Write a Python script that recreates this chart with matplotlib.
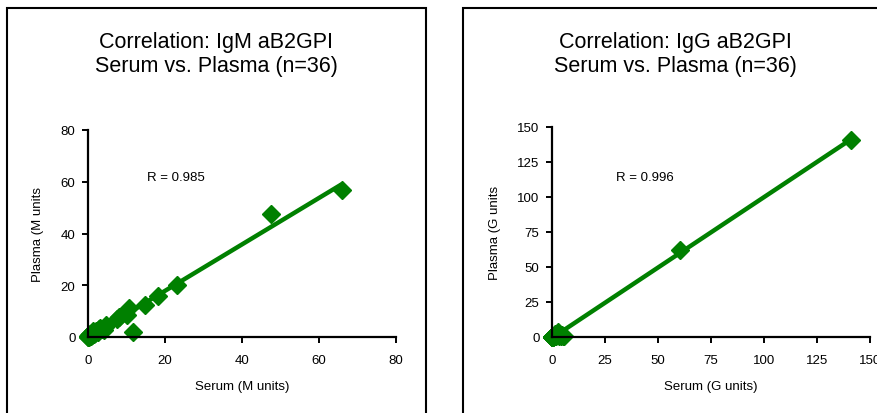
import numpy as np
import matplotlib
matplotlib.use("Agg")
from matplotlib import pyplot as plt
from matplotlib.patches import Rectangle

plt.rcParams['font.family'] = ['Liberation Sans', 'DejaVu Sans']

# IgM aB2GPI, serum vs plasma (M units)
igm_serum = [65.9, 47.5, 23.0, 18.3, 14.7, 10.7, 10.2, 11.8, 8.0, 7.6,
             4.8, 4.2, 3.1, 2.8, 2.2, 1.8, 1.4, 1.2, 1.0, 0.8,
             0.6, 0.5, 0.4, 0.3, 0.2, 0.2, 0.1, 0.1, 0.6, 1.6,
             2.5, 3.6, 4.5, 0.9, 0.3, 0.0]
igm_plasma = [57.0, 47.5, 20.0, 16.0, 12.3, 11.3, 8.6, 1.9, 7.8, 7.0,
              4.6, 2.6, 3.6, 2.9, 2.3, 1.6, 2.4, 1.0, 0.9, 0.6,
              0.5, 1.2, 0.3, 0.2, 0.4, 0.1, 0.2, 0.0, 0.8, 1.3,
              1.9, 3.0, 3.9, 0.4, 0.6, 0.1]

# IgG aB2GPI, serum vs plasma (G units)
igg_serum = [141.0, 60.2, 5.5, 4.8, 4.2, 3.6, 3.0, 2.6, 2.2, 1.9,
             1.6, 1.4, 1.2, 1.0, 0.9, 0.8, 0.7, 0.6, 0.5, 0.4,
             0.3, 0.3, 0.2, 0.2, 0.1, 0.1, 0.0, 0.0, 2.8, 3.3,
             1.1, 0.6, 0.4, 0.2, 5.0, 1.8]
igg_plasma = [140.5, 62.5, 0.8, 1.5, 0.6, 1.2, 2.8, 3.4, 1.6, 0.9,
              2.0, 1.2, 0.6, 1.0, 0.4, 0.9, 0.5, 0.3, 0.6, 0.2,
              0.4, 0.1, 0.3, 0.0, 0.2, 0.1, 0.0, 0.3, 1.9, 0.7,
              0.8, 0.2, 0.5, 0.1, 0.4, 1.1]

panels = [
    dict(x=igm_serum, y=igm_plasma,
         title=["Correlation: IgM aB2GPI", "Serum vs. Plasma (n=36)"],
         xlabel="Serum (M units)", ylabel="Plasma (M units", r="R = 0.985",
         lim=80, step=20, rpos=(15.3, 61.8)),
    dict(x=igg_serum, y=igg_plasma,
         title=["Correlation: IgG aB2GPI", "Serum vs. Plasma (n=36)"],
         xlabel="Serum (G units)", ylabel="Plasma (G units", r="R = 0.996",
         lim=150, step=25, rpos=(30.2, 114)),
]

W, H = 878, 414
fig = plt.figure(figsize=(W / 100, H / 100), dpi=100)

# panel frames (left, right edges) and axes boxes, in pixels
frames = [(7, 426), (463, 887)]
boxes = [(88, 131, 396, 338), (552, 128, 870, 338)]
green = "#008000"

for p, (fl, fr), (x0, y0, x1, y1) in zip(panels, frames, boxes):
    fig.patches.append(Rectangle((fl / W, -0.1), (fr - fl) / W, 1.1 - 9 / H,
                                 transform=fig.transFigure, fill=False,
                                 edgecolor="black", linewidth=1.5))
    ax = fig.add_axes([x0 / W, 1 - y1 / H, (x1 - x0) / W, (y1 - y0) / H])
    xs = np.array(p["x"])
    ys = np.array(p["y"])
    k, b = np.polyfit(xs, ys, 1)
    lx = np.array([xs.min(), xs.max()])
    ax.plot(lx, k * lx + b, color=green, linewidth=3.2, solid_capstyle="butt")
    ax.plot(xs, ys, linestyle="none", marker="D", markersize=9,
            color=green, clip_on=False)
    ax.set_xlim(0, p["lim"])
    ax.set_ylim(0, p["lim"])
    ticks = np.arange(0, p["lim"] + 1, p["step"])
    ax.set_xticks(ticks)
    ax.set_yticks(ticks)
    for s in ["top", "right"]:
        ax.spines[s].set_visible(False)
    for s in ["left", "bottom"]:
        ax.spines[s].set_linewidth(1.6)
    ax.tick_params(axis="x", direction="out", length=4, width=1.4, labelsize=9.5, pad=8)
    ax.tick_params(axis="y", direction="out", length=4, width=1.4, labelsize=9.5, pad=5)
    ax.set_xlabel(p["xlabel"], fontsize=9.5, labelpad=10)
    ax.set_ylabel(p["ylabel"], fontsize=9.5, labelpad=12)
    ax.text(p["rpos"][0], p["rpos"][1], p["r"], fontsize=9.5, va="center", ha="left")
    cx = (fl + fr) / 2 / W
    fig.text(cx, 1 - 48 / H, p["title"][0], ha="center", va="baseline", fontsize=15.5)
    fig.text(cx, 1 - 72 / H, p["title"][1], ha="center", va="baseline", fontsize=15.5)

fig.savefig("out.png", dpi=100)
